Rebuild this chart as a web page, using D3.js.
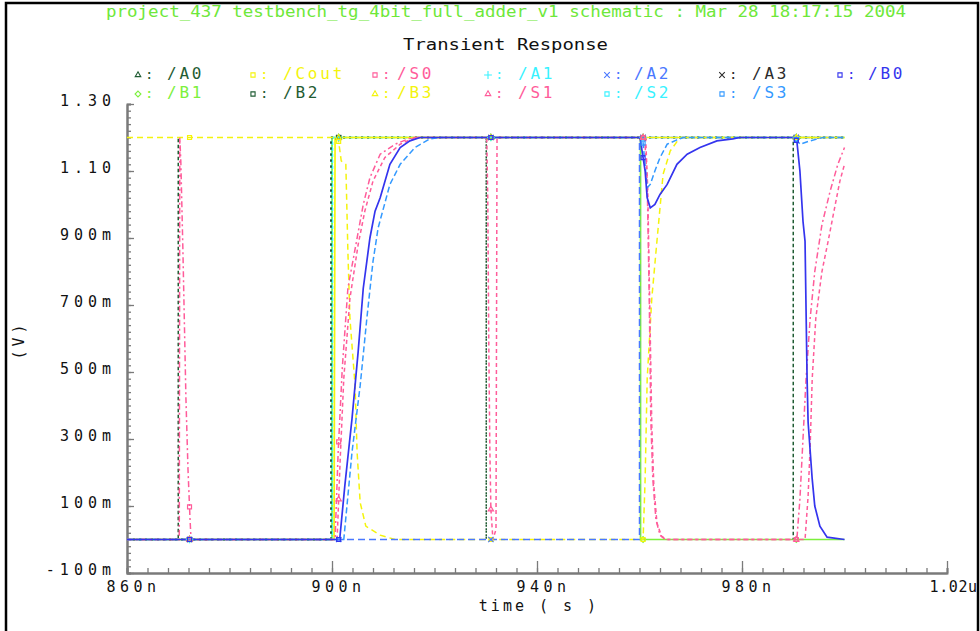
<!DOCTYPE html>
<html>
<head>
<meta charset="utf-8">
<script src="https://cdn.jsdelivr.net/npm/d3@7"></script>
<style>
  html, body { margin: 0; padding: 0; background: #fff; }
  svg text { font-family: "DejaVu Sans Mono", "Liberation Mono", monospace; }
</style>
</head>
<body>
<div id="chart"></div>
<script>
// time in ns, value in V
const A0 = [[860, 0], [870.0, 0], [870.0, 1.2], [870.0, 0], [899.8, 0], [899.8, 1.2], [930.1, 1.2], [930.1, 0], [930.1, 1.2], [1000, 1.2]];
const Cout = [[860, 1.2], [901.2, 1.2], [901.8, 1.13], [902.7, 1.12], [903.1, 0.86], [903.5, 0.66], [904.5, 0.46], [904.9, 0.26], [905.5, 0.11], [906.6, 0.04], [909.4, 0.013], [912.3, 0], [960.7, 0], [961.1, 0.18], [961.5, 0.48], [962.4, 0.72], [963.4, 0.89], [964.6, 1.09], [966.0, 1.16], [967.9, 1.2], [1000, 1.2]];
const S0 = [[860, 0], [870.2, 0], [870.3, 1.2], [870.5, 1.13], [870.9, 0.87], [871.5, 0.42], [871.9, 0.21], [872.3, 0.06], [872.5, 0], [900.6, 0], [901.2, 0.26], [902.0, 0.51], [903.1, 0.75], [904.9, 0.9], [906.1, 1.0], [907.4, 1.08], [909.4, 1.15], [912.3, 1.18], [915.6, 1.2], [961.0, 1.2], [961.5, 1.07], [961.9, 0.72], [962.2, 0.36], [962.6, 0.18], [963.2, 0.06], [964.0, 0.013], [965.0, 0], [990.7, 0], [991.3, 0.12], [991.9, 0.3], [992.5, 0.48], [993.3, 0.66], [994.2, 0.8], [995.6, 0.94], [997.2, 1.04], [998.7, 1.12], [1000, 1.17]];
const A1 = [[860, 0], [900.0, 0], [900.0, 1.2], [1000, 1.2]];
const A2 = [[860, 0], [960.0, 0], [960.0, 1.2], [1000, 1.2]];
const A3 = [[860, 0], [899.9, 0], [899.9, 1.2], [1000, 1.2]];
const B0 = [[860, 0], [901.5, 0], [902.5, 0.16], [903.9, 0.36], [905.1, 0.56], [906.1, 0.75], [907.4, 0.9], [908.4, 0.98], [909.4, 1.02], [911.3, 1.12], [913.3, 1.17], [915.2, 1.19], [917.2, 1.2], [960.1, 1.2], [961.1, 1.1], [961.5, 1.02], [962.1, 0.99], [963.0, 1.0], [964.0, 1.03], [965.4, 1.06], [967.3, 1.12], [969.3, 1.15], [971.8, 1.17], [975.1, 1.19], [978.2, 1.196], [979.6, 1.2], [990.0, 1.2], [990.7, 1.19], [991.3, 1.1], [991.9, 0.95], [992.3, 0.89], [992.7, 0.48], [992.9, 0.35], [993.7, 0.18], [994.2, 0.1], [995.2, 0.04], [996.6, 0.007], [1000, 0]];
const B1 = [[860, 0], [900.0, 0], [900.0, 1.2], [960.2, 1.2], [960.2, 0], [1000, 0]];
const B2 = [[860, 0], [899.8, 0], [899.8, 1.2], [990.0, 1.2], [990.0, 0], [990.0, 1.2], [1000, 1.2]];
const B3 = [[860, 0], [900.4, 0], [900.6, 1.2], [1000, 1.2]];
const S1 = [[860, 0], [901.0, 0], [901.6, 0.24], [902.3, 0.48], [903.5, 0.72], [905.1, 0.88], [906.4, 0.98], [908.0, 1.07], [910.3, 1.14], [913.3, 1.18], [916.2, 1.2], [930.2, 1.2], [930.4, 1.01], [930.6, 0.57], [930.8, 0.27], [931.0, 0.09], [931.4, 0], [932.0, 0.03], [932.2, 1.2], [961.2, 1.2], [961.6, 1.05], [962.0, 0.7], [962.4, 0.34], [962.8, 0.16], [963.4, 0.05], [964.3, 0.01], [965.3, 0], [992.3, 0], [992.9, 0.13], [993.3, 0.28], [993.7, 0.48], [994.4, 0.66], [995.6, 0.8], [996.8, 0.89], [998.2, 1.0], [999.1, 1.07], [1000, 1.12]];
const S2 = [[860, 0], [900.1, 0], [900.1, 1.2], [1000, 1.2]];
const S3 = [[860, 0], [902.3, 0], [903.9, 0.26], [905.5, 0.46], [906.8, 0.66], [908.0, 0.83], [909.0, 0.93], [911.3, 1.06], [913.3, 1.12], [916.2, 1.17], [919.1, 1.196], [921, 1.2], [960.6, 1.2], [961.5, 1.05], [962.1, 1.06], [963.0, 1.1], [964.0, 1.14], [965.4, 1.18], [967.3, 1.193], [968.5, 1.2], [990.3, 1.2], [991.3, 1.18], [993.3, 1.19], [995.8, 1.2], [1000, 1.2]];

const legendRow1 = ['/A0', '/Cout', '/S0', '/A1', '/A2', '/A3', '/B0'];
const legendRow2 = ['/B1', '/B2', '/B3', '/S1', '/S2', '/S3'];

const xTickValues = [860, 900, 940, 980, 1020];
const xTickLabels = ['860n', '900n', '940n', '980n', '1.02u'];
const yTickValues = [-0.1, 0.1, 0.3, 0.5, 0.7, 0.9, 1.1, 1.3];
const yTickLabels = ['-100m', '100m', '300m', '500m', '700m', '900m', '1.10', '1.30'];
const markerTimes = [872.2, 901.3, 931.0, 960.7, 990.6];

const titleText = 'project_437 testbench_tg_4bit_full_adder_v1 schematic : Mar 28 18:17:15 2004';
const subTitle = 'Transient Response';

// style per trace (draw order = bottom to top)
const traces = [
  { name: '/B1', data: B1, color: '#7cf03c', dash: null, sym: d3.symbolDiamond2 },
  { name: '/A3', data: A3, color: '#2b2b2b', dash: '2,4', sym: d3.symbolTimes },
  { name: '/S2', data: S2, color: '#38f2ff', dash: '3,3', sym: d3.symbolSquare2 },
  { name: '/A1', data: A1, color: '#38f2ff', dash: '4,2', sym: d3.symbolPlus },
  { name: '/B2', data: B2, color: '#1f5c33', dash: '2,4', sym: d3.symbolSquare2 },
  { name: '/A0', data: A0, color: '#1f5c33', dash: '2,4', sym: d3.symbolTriangle2 },
  { name: '/Cout', data: Cout, color: '#f4f40c', dash: '6,4', sym: d3.symbolSquare2 },
  { name: '/A2', data: A2, color: '#4a78ff', dash: '7,4', sym: d3.symbolTimes },
  { name: '/B3', data: B3, color: '#f4f40c', dash: null, sym: d3.symbolTriangle2 },
  { name: '/S0', data: S0, color: '#ff5c9a', dash: '6,3,2,3', sym: d3.symbolSquare2 },
  { name: '/S1', data: S1, color: '#ff5c9a', dash: '4,3', sym: d3.symbolTriangle2 },
  { name: '/S3', data: S3, color: '#3399ff', dash: '6,3', sym: d3.symbolSquare2 },
  { name: '/B0', data: B0, color: '#3434ee', dash: null, sym: d3.symbolSquare2 },
];
const byName = {};
traces.forEach((t) => { byName[t.name] = t; });

const W = 980;
const H = 631;

const svg = d3.select('#chart').append('svg')
  .attr('width', W)
  .attr('height', H);

svg.append('rect').attr('width', W).attr('height', H).attr('fill', '#fff');

// outer frame
svg.append('rect')
  .attr('x', 6).attr('y', 3)
  .attr('width', 972).attr('height', 660)
  .attr('fill', 'none')
  .attr('stroke', '#000')
  .attr('stroke-width', 2.5);

const x = d3.scaleLinear().domain([860, 1020]).range([127, 947]);
const y = d3.scaleLinear().domain([-0.1, 1.3]).range([573, 104]);

// titles
svg.append('text')
  .attr('x', 106).attr('y', 17)
  .attr('textLength', 800)
  .attr('lengthAdjust', 'spacingAndGlyphs')
  .style('font-size', '15px')
  .attr('fill', '#6ee83a')
  .text(titleText);

svg.append('text')
  .attr('x', 403).attr('y', 50)
  .attr('textLength', 205)
  .attr('lengthAdjust', 'spacingAndGlyphs')
  .style('font-size', '15px')
  .attr('fill', '#111')
  .text(subTitle);

// legend
const colX = [133, 248, 370, 483, 602, 717, 835];
const colTextX = [167, 283, 397, 518, 634, 752, 868];
const rowY = [79, 98];
[legendRow1, legendRow2].forEach((row, ri) => {
  row.forEach((name, ci) => {
    const t = byName[name];
    const g = svg.append('g');
    g.append('path')
      .attr('d', d3.symbol().type(t.sym).size(22)())
      .attr('transform', `translate(${colX[ci] + 5},${rowY[ri] - 4})`)
      .attr('fill', 'none')
      .attr('stroke', t.color)
      .attr('stroke-width', 1.1);
    g.append('text')
      .attr('x', colX[ci] + 12).attr('y', rowY[ri])
      .style('font-size', '14px')
      .attr('fill', t.color)
      .text(':');
    g.append('text')
      .attr('x', colTextX[ci]).attr('y', rowY[ri])
      .style('font-size', '16px')
      .style('letter-spacing', '2.8px')
      .attr('fill', t.color)
      .text(name);
  });
});

// axes
const xAxisMinor = d3.axisBottom(x)
  .tickValues(d3.range(860, 1020.1, 4))
  .tickSize(-5)
  .tickFormat('');
const xAxisMajor = d3.axisBottom(x)
  .tickValues(xTickValues)
  .tickSizeInner(-12)
  .tickSizeOuter(0)
  .tickPadding(8)
  .tickFormat((d, i) => xTickLabels[i]);

const gxMinor = svg.append('g').attr('transform', `translate(0,${y(-0.1)})`).call(xAxisMinor);
const gx = svg.append('g').attr('transform', `translate(0,${y(-0.1)})`).call(xAxisMajor);

const yAxisMinor = d3.axisLeft(y)
  .tickValues(d3.range(-0.1, 1.3001, 0.02))
  .tickSize(-4)
  .tickFormat('');
const yAxisMajor = d3.axisLeft(y)
  .tickValues(yTickValues)
  .tickSizeInner(-7)
  .tickSizeOuter(0)
  .tickPadding(11)
  .tickFormat((d, i) => yTickLabels[i]);

const gyMinor = svg.append('g').attr('transform', `translate(${x(860)},0)`).call(yAxisMinor);
const gy = svg.append('g').attr('transform', `translate(${x(860)},0)`).call(yAxisMajor);

[gxMinor, gx, gyMinor, gy].forEach((g) => {
  g.selectAll('.domain').attr('stroke', '#7a7a7a').attr('stroke-width', 2);
  g.selectAll('.tick line').attr('stroke', '#7a7a7a').attr('stroke-width', 1.3);
});
gx.selectAll('text')
  .style('font-size', '15px')
  .style('letter-spacing', '4.5px')
  .attr('fill', '#111')
  .attr('dx', 6);
// last label sits against the right edge
gx.selectAll('.tick').filter((d) => d === 1020).select('text')
  .attr('text-anchor', 'start')
  .attr('dx', -18)
  .style('letter-spacing', '0.6px');
gy.selectAll('text')
  .style('font-size', '15px')
  .style('letter-spacing', '5px')
  .attr('fill', '#111')
  .attr('dy', '0.1em');

// axis titles
svg.append('text')
  .attr('x', 539).attr('y', 611)
  .attr('text-anchor', 'middle')
  .style('font-size', '15px')
  .style('letter-spacing', '3px')
  .attr('fill', '#111')
  .text('time ( s )');

svg.append('text')
  .attr('transform', 'translate(24,340) rotate(-90)')
  .attr('text-anchor', 'middle')
  .style('font-size', '15px')
  .style('letter-spacing', '4px')
  .attr('fill', '#111')
  .text('(V)');

// traces
const line = d3.line()
  .x((d) => x(d[0]))
  .y((d) => y(d[1]));

const plot = svg.append('g');
traces.forEach((t) => {
  plot.append('path')
    .datum(t.data)
    .attr('d', line)
    .attr('fill', 'none')
    .attr('stroke', t.color)
    .attr('stroke-width', t.dash ? 1.5 : 1.7)
    .attr('stroke-dasharray', t.dash);
});

// point markers on the traces
const valueAt = (data, tt) => {
  for (let i = 1; i < data.length; i += 1) {
    if (data[i][0] >= tt) {
      const [t0, v0] = data[i - 1];
      const [t1, v1] = data[i];
      return v0 + ((v1 - v0) * (tt - t0)) / (t1 - t0);
    }
  }
  return data[data.length - 1][1];
};
traces.forEach((t) => {
  markerTimes.forEach((mt) => {
    plot.append('path')
      .attr('d', d3.symbol().type(t.sym).size(20)())
      .attr('transform', `translate(${x(mt)},${y(valueAt(t.data, mt))})`)
      .attr('fill', 'none')
      .attr('stroke', t.color)
      .attr('stroke-width', 1.2);
  });
});
</script>
</body>
</html>
